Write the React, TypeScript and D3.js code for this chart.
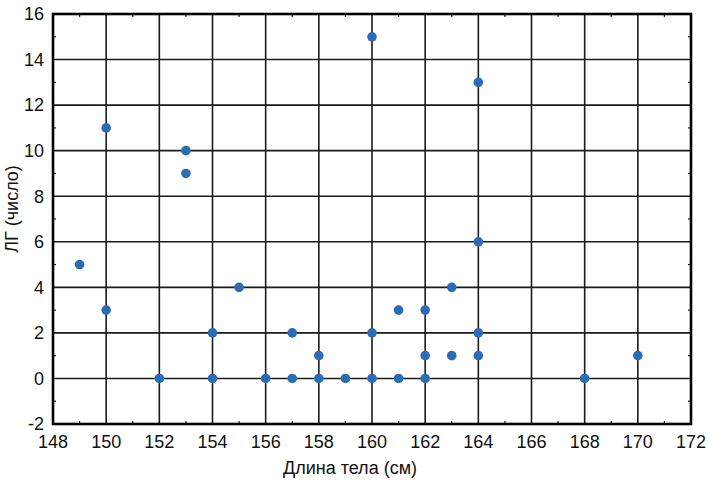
import React from "react";
import * as d3 from "d3";

const heights = [149, 150, 150, 152, 153, 153, 154, 154, 155, 156, 157, 157, 158, 158, 159, 160, 160, 160, 161, 161, 162, 162, 162, 163, 163, 164, 164, 164, 164, 168, 170];
const lgCounts = [5, 11, 3, 0, 10, 9, 2, 0, 4, 0, 2, 0, 1, 0, 0, 15, 2, 0, 3, 0, 3, 1, 0, 4, 1, 13, 6, 2, 1, 0, 1];
const xTicks = [148, 150, 152, 154, 156, 158, 160, 162, 164, 166, 168, 170, 172];
const yTicks = [-2, 0, 2, 4, 6, 8, 10, 12, 14, 16];
const xLabel = "Длина тела (см)";
const yLabel = "ЛГ (число)";

const W = 709, H = 481;
const L = 53, R = 691, T = 14, B = 424;

export default function App() {
  const x = d3.scaleLinear().domain([148, 172]).range([L, R]);
  const y = d3.scaleLinear().domain([-2, 16]).range([B, T]);
  const xMinor = d3.range(149, 172, 2);
  const yMinor = d3.range(-1, 16, 2);
  const font = "'Liberation Sans', Arial, sans-serif";
  return (
    <svg width={W} height={H} style={{ position: "absolute", left: 0, top: 0, background: "#fff" }}>
      <rect x={0} y={0} width={W} height={H} fill="#fff" />
      {xTicks.slice(1, -1).map((t) => (
        <line key={"gx" + t} x1={x(t)} x2={x(t)} y1={T} y2={B} stroke="#1a1a1a" strokeWidth={1.6} />
      ))}
      {yTicks.slice(1, -1).map((t) => (
        <line key={"gy" + t} x1={L} x2={R} y1={y(t)} y2={y(t)} stroke="#1a1a1a" strokeWidth={1.6} />
      ))}
      {xMinor.map((t) => (
        <g key={"mx" + t}>
          <line x1={x(t)} x2={x(t)} y1={T} y2={T + 3} stroke="#1a1a1a" strokeWidth={1.2} />
          <line x1={x(t)} x2={x(t)} y1={B} y2={B - 3} stroke="#1a1a1a" strokeWidth={1.2} />
        </g>
      ))}
      {yMinor.map((t) => (
        <g key={"my" + t}>
          <line x1={L} x2={L + 3} y1={y(t)} y2={y(t)} stroke="#1a1a1a" strokeWidth={1.2} />
          <line x1={R} x2={R - 3} y1={y(t)} y2={y(t)} stroke="#1a1a1a" strokeWidth={1.2} />
        </g>
      ))}
      <rect x={L} y={T} width={R - L} height={B - T} fill="none" stroke="#000" strokeWidth={2.6} />
      {heights.map((h, i) => (
        <circle key={"p" + i} cx={x(h)} cy={y(lgCounts[i])} r={4.8} fill="#2b6cb4" />
      ))}
      {xTicks.map((t) => (
        <text key={"tx" + t} x={x(t)} y={448} textAnchor="middle" fontFamily={font} fontSize={18} fill="#111">
          {t}
        </text>
      ))}
      {yTicks.map((t) => (
        <text key={"ty" + t} x={44} y={y(t)} dy="0.35em" textAnchor="end" fontFamily={font} fontSize={18} fill="#111">
          {t}
        </text>
      ))}
      <text x={350} y={474} textAnchor="middle" fontFamily={font} fontSize={18} fill="#111">
        {xLabel}
      </text>
      <text transform={`translate(18,209) rotate(-90)`} textAnchor="middle" fontFamily={font} fontSize={18} fill="#111">
        {yLabel}
      </text>
    </svg>
  );
}
